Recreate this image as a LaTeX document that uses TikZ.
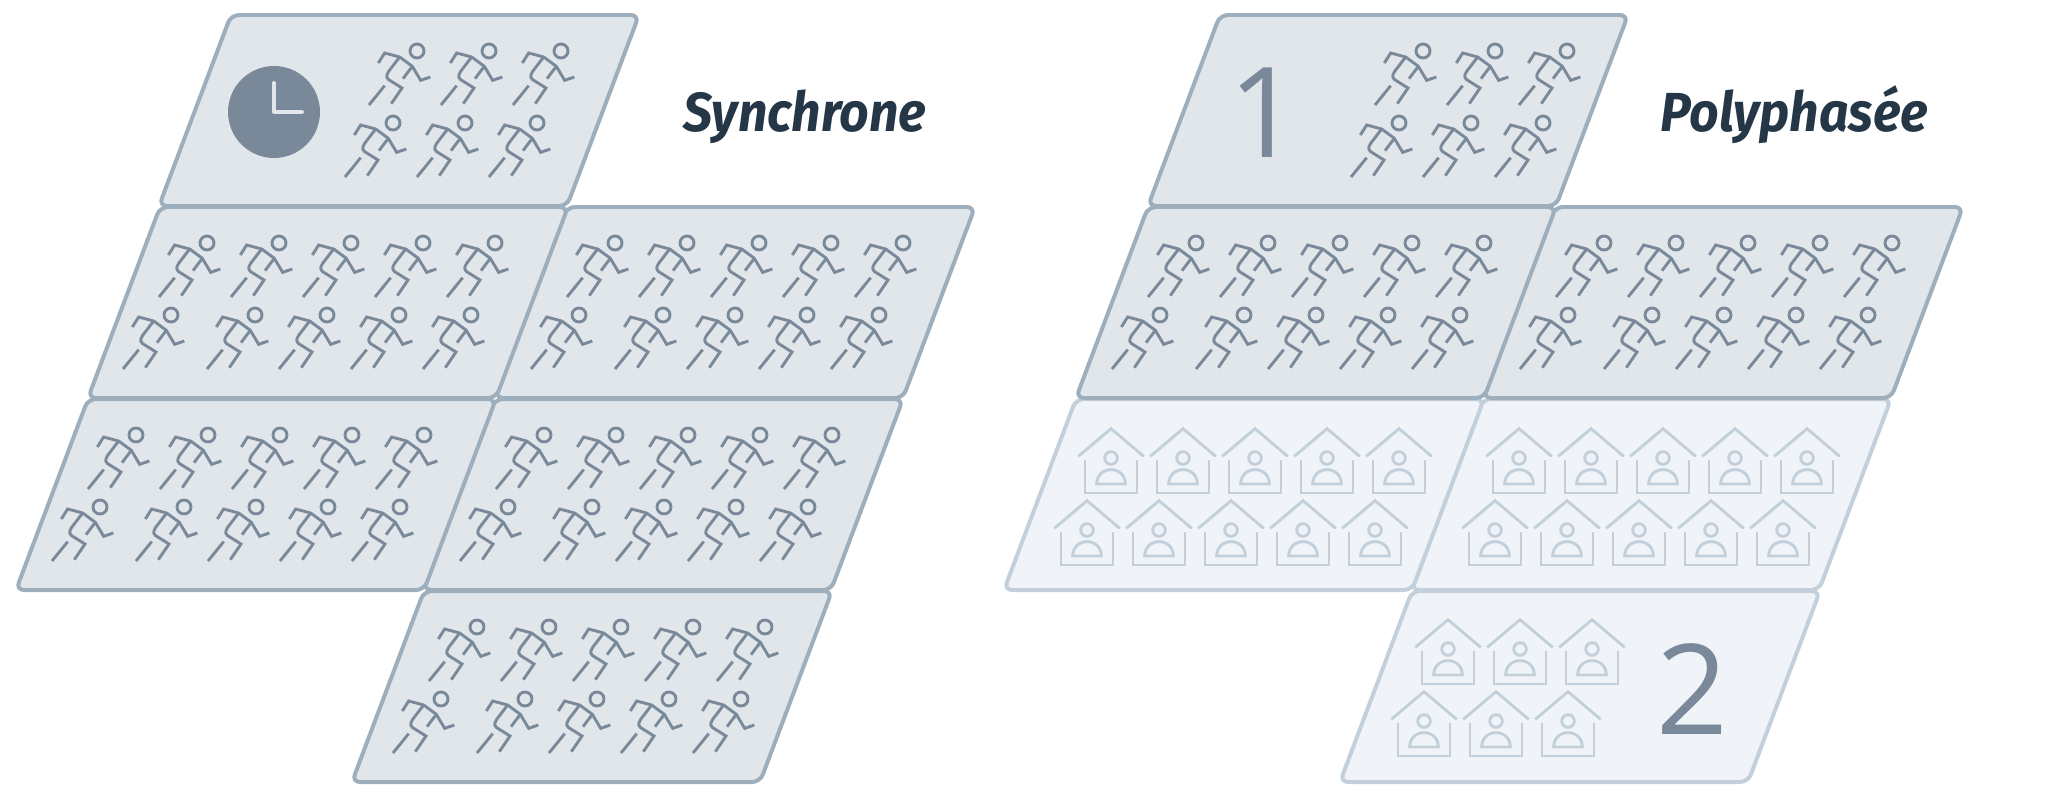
\documentclass[tikz,border=0pt]{standalone}
\usepackage{fontspec}
\newfontfamily\titlefont{Fira Sans}[UprightFont=* Bold Italic,FakeStretch=0.94]
\newfontfamily\digitfont{Open Sans}
\definecolor{panelfill}{HTML}{E1E6EB}
\definecolor{panelline}{HTML}{9DAEBD}
\definecolor{lightfill}{HTML}{F0F4F8}
\definecolor{lightline}{HTML}{C3D0DB}
\definecolor{figcolor}{HTML}{7A8999}
\definecolor{titlecolor}{HTML}{253746}
\tikzset{
  darkpanel/.style={draw=panelline,fill=panelfill,line width=2pt,rounded corners=4pt,line join=round},
  lightpanel/.style={draw=lightline,fill=lightfill,line width=2pt,rounded corners=4pt,line join=round},
  titletext/.style={text=titlecolor,anchor=base west,inner sep=0pt,font=\titlefont\fontsize{27.6}{30}\selectfont},
  digittext/.style={text=figcolor,inner sep=0pt,anchor=base,font=\digitfont\fontsize{63}{70}\selectfont},
  pics/runnerfig/.style={code={
    \begin{scope}[scale=1/3,draw=figcolor,line width=1.45pt,line join=miter]
      \draw (0,0) circle[radius=21];
      \draw (-116,36) -- (-97,6) -- (-52,18) -- (-14,46) -- (11,88) -- (40,78);
      \draw (-52,18) -- (-85,61) .. controls (-95,75) and (-92,84) .. (-77,91) -- (-45,111) -- (-77,158);
      \draw (-14,46) -- (-42,83);
      \draw (-97,104) -- (-144,162);
    \end{scope}
  }},
  pics/housefig/.style={code={
    \begin{scope}[scale=1/3,draw=lightline,line width=1.45pt,line join=miter]
      \draw (-98,-5) -- (0,-88) -- (98,-5);
      \draw (-78,5) -- (-78,105) -- (78,105) -- (78,5);
      \draw (0,0) circle[radius=19];
      \draw (-43,78) .. controls (-43,52) and (-24,35) .. (0,35) .. controls (24,35) and (43,52) .. (43,78) -- cycle;
    \end{scope}
  }}
}
\newcommand{\panelat}[3]{\draw[#1] (#2,#3) -- ++(408,0) -- ++(-72,191) -- ++(-408,0) -- cycle;}
\newcommand{\tenrunners}[2]{%
  \foreach \k in {0,...,4} {\pic at ({#1+49+72*\k},{#2+36}) {runnerfig};}
  \pic at ({#1+13},{#2+108}) {runnerfig};
  \foreach \k in {0,...,3} {\pic at ({#1+97+72*\k},{#2+108}) {runnerfig};}
}
\newcommand{\tenhouses}[2]{%
  \foreach \k in {0,...,4} {\pic at ({#1+24+72*\k},{#2+59}) {housefig};}
  \foreach \k in {0,...,4} {\pic at ({#1+72*\k},{#2+131}) {housefig};}
}
\begin{document}
\begin{tikzpicture}[x=0.5bp,y=-0.5bp]
\useasboundingbox (0,0) rectangle (2052,798);
% Synchrone
\panelat{darkpanel}{231}{15}
\panelat{darkpanel}{567}{207}
\panelat{darkpanel}{160}{207}
\panelat{darkpanel}{495}{399}
\panelat{darkpanel}{88}{399}
\panelat{darkpanel}{424}{591}
\fill[figcolor] (274,112) circle[radius=46];
\draw[panelfill,line width=2pt,line cap=round,line join=round] (274,83) -- (274,112) -- (302,112);
\foreach \k in {0,1,2} {\pic at ({417+72*\k},51) {runnerfig}; \pic at ({393+72*\k},123) {runnerfig};}
\tenrunners{158}{207}
\tenrunners{566}{207}
\tenrunners{87}{399}
\tenrunners{495}{399}
\tenrunners{428}{591}
\node[titletext] (t1) at (683,131) {Synchrone};
% Polyphasee
\panelat{lightpanel}{1483}{399}
\panelat{lightpanel}{1076}{399}
\panelat{lightpanel}{1412}{591}
\panelat{darkpanel}{1220}{15}
\panelat{darkpanel}{1555}{207}
\panelat{darkpanel}{1148}{207}
\foreach \k in {0,1,2} {\pic at ({1423+72*\k},51) {runnerfig}; \pic at ({1399+72*\k},123) {runnerfig};}
\tenrunners{1147}{207}
\tenrunners{1555}{207}
\tenhouses{1087}{399}
\tenhouses{1495}{399}
\foreach \k in {0,1,2} {\pic at ({1448+72*\k},649) {housefig}; \pic at ({1424+72*\k},721) {housefig};}
\node[digittext] (d1) at (1264,157) {1};
\node[digittext] (d2) at (1692,734) {2};
\node[titletext] (t2) at (1660,131) {Polyphasée};
\end{tikzpicture}
\end{document}
